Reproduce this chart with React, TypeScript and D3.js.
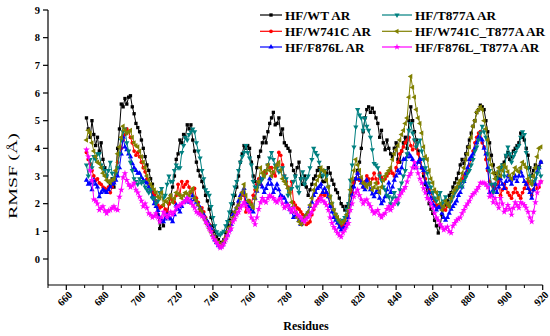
import React from "react";
import * as d3 from "d3";

const firstResidue = 671;
const xTickValues = [660, 680, 700, 720, 740, 760, 780, 800, 820, 840, 860, 880, 900, 920];
const xMinorValues = [650, 670, 690, 710, 730, 750, 770, 790, 810, 830, 850, 870, 890, 910];
const yTickValues = [0, 1, 2, 3, 4, 5, 6, 7, 8, 9];

const wt = [
  5.1, 4.7, 4.4, 5.0, 4.5, 4.1, 4.4, 3.9, 4.2, 3.6,
  3.3, 3.0, 2.8, 2.7, 2.9, 2.6, 3.1, 4.0, 4.7, 5.6,
  5.5, 5.8, 5.6, 5.85, 5.9, 5.5, 5.25, 4.9, 4.75, 4.6,
  4.3, 4.0, 3.7, 3.4, 3.2, 2.9, 2.7, 2.3, 2.0, 1.6,
  1.1, 1.4, 1.2, 1.6, 1.5, 2.0, 2.3, 2.6, 3.0, 3.6,
  3.8, 4.3, 4.2, 4.5, 4.4, 4.85, 4.7, 4.85, 4.3, 3.9,
  3.5, 3.2, 3.0, 2.8, 2.6, 2.3, 2.1, 1.8, 1.5, 1.2,
  1.0, 0.8, 0.7, 0.6, 0.5, 0.7, 0.95, 1.2, 1.4, 1.7,
  2.0, 2.3, 2.6, 3.0, 3.5, 3.8, 4.1, 4.0, 4.1, 4.0,
  3.5, 3.0, 2.8, 3.3, 3.7, 3.9, 4.2, 4.4, 4.2, 4.6,
  4.9, 5.1, 5.3, 4.85, 4.9, 5.1, 4.5, 4.7, 4.2, 4.1,
  4.0, 3.9, 3.4, 3.2, 3.0, 3.3, 3.5, 2.9, 2.7, 3.0,
  2.6, 2.3, 2.5, 2.7, 2.9, 3.0, 3.2, 3.3, 3.0, 2.8,
  2.8, 3.1, 3.3, 3.1, 2.85, 2.7, 2.5, 2.4, 2.2, 2.0,
  1.9, 1.77, 1.9, 2.0, 2.3, 2.6, 2.8, 2.9, 3.2, 3.5,
  4.0, 4.6, 5.1, 5.4, 5.5, 5.3, 5.45, 5.3, 5.1, 4.9,
  4.4, 4.65, 4.2, 3.95, 4.3, 4.0, 3.8, 3.7, 4.0, 4.2,
  3.6, 3.5, 3.9, 4.2, 4.4, 4.0, 5.0, 5.5, 5.0, 4.6,
  4.3, 3.9, 3.6, 3.3, 3.0, 2.7, 2.4, 2.0, 1.8, 1.65,
  1.4, 1.2, 0.94, 1.2, 1.6, 1.8, 1.95, 2.1, 2.3, 2.4,
  2.6, 2.75, 2.9, 3.1, 3.4, 3.6, 3.45, 3.8, 4.05, 4.3,
  4.55, 4.8, 5.0, 5.3, 5.4, 5.56, 5.5, 5.4, 5.0, 4.6,
  4.2, 3.75, 3.4, 3.1, 2.95, 2.9, 3.3, 3.4, 3.5, 3.7,
  3.85, 3.6, 3.7, 3.9, 4.0, 4.1, 4.2, 4.55, 4.4, 4.3,
  4.0, 3.75, 3.3, 3.0, 3.2, 3.4, 3.3, 3.35, 3.5,
];

const t877a = [
  3.4, 3.0, 3.6, 3.3, 3.7, 3.6, 3.8, 3.8, 3.4, 3.3,
  3.2, 3.0, 3.2, 3.5, 3.1, 2.9, 3.1, 3.3, 3.8, 4.3,
  4.6, 4.7, 4.2, 3.9, 3.5, 3.2, 2.9, 2.8, 2.7, 2.9,
  2.75, 2.8, 2.6, 2.5, 2.4, 2.5, 2.2, 2.2, 2.0, 2.1,
  2.4, 2.55, 2.2, 2.3, 2.7, 3.0, 2.8, 2.8, 3.2, 3.4,
  3.3, 3.3, 3.85, 4.1, 4.4, 4.3, 4.5, 4.6, 4.7, 4.6,
  4.2, 3.9, 3.65, 3.2, 2.9, 2.5, 2.4, 2.3, 1.9, 1.5,
  1.2, 0.98, 0.9, 0.87, 0.95, 1.0, 1.2, 1.35, 1.7, 2.0,
  2.3, 2.6, 2.8, 3.2, 3.5, 3.7, 3.85, 4.1, 3.85, 3.65,
  3.4, 2.8, 2.6, 2.55, 2.7, 2.8, 2.9, 3.0, 3.2, 3.4,
  3.65, 3.85, 3.6, 3.4, 3.3, 3.15, 3.2, 3.3, 3.0, 2.9,
  2.3, 2.5, 2.55, 2.8, 3.0, 2.6, 2.4, 2.9, 3.15, 2.7,
  2.9, 3.0, 3.3, 3.6, 4.0, 3.85, 3.75, 3.5, 3.2, 3.0,
  3.2, 3.0, 2.6, 2.25, 2.0, 1.77, 1.6, 1.4, 1.35, 1.3,
  1.4, 1.5, 1.8, 2.0, 2.85, 3.4, 4.05, 4.77, 5.4, 5.2,
  5.1, 4.65, 5.1, 4.8, 4.65, 4.4, 3.95, 3.45, 3.4, 3.3,
  3.0, 2.85, 2.6, 2.5, 2.3, 2.25, 2.0, 2.2, 2.4, 2.2,
  2.0, 2.5, 2.75, 3.0, 3.2, 3.8, 4.65, 4.9, 4.55, 4.3,
  4.05, 4.2, 4.3, 3.9, 3.6, 3.3, 3.1, 2.75, 2.6, 2.4,
  2.2, 2.1, 2.3, 2.4, 2.0, 2.1, 2.25, 2.0, 1.9, 2.1,
  2.25, 2.4, 2.5, 2.6, 2.75, 2.6, 2.8, 2.95, 3.1, 3.2,
  3.4, 3.6, 3.9, 4.05, 4.3, 4.55, 4.8, 4.6, 4.4, 3.8,
  3.2, 2.7, 2.4, 2.7, 2.9, 3.15, 3.3, 3.4, 3.0, 3.75,
  4.05, 3.8, 3.5, 3.7, 3.85, 4.0, 4.1, 4.4, 4.6, 4.5,
  3.85, 3.3, 3.0, 2.7, 2.8, 2.9, 3.1, 3.3, 3.0,
];

const w741c = [
  3.85, 3.6, 3.45, 3.2, 3.0, 2.85, 2.9, 2.75, 2.7, 2.6,
  2.55, 2.5, 2.6, 2.4, 2.6, 2.8, 3.1, 3.5, 3.8, 4.0,
  4.3, 4.5, 4.7, 4.6, 4.4, 4.2, 3.9, 3.75, 3.85, 3.7,
  3.5, 3.3, 3.15, 2.9, 2.7, 2.5, 2.4, 2.3, 2.1, 1.95,
  1.85, 1.9, 1.95, 1.8, 1.7, 2.0, 2.2, 2.1, 2.05, 2.3,
  2.7, 2.3, 2.8, 2.6, 2.7, 2.8, 2.6, 2.4, 2.5, 2.55,
  2.2, 2.05, 1.7, 1.85, 1.7, 1.5, 1.35, 1.25, 1.05, 0.87,
  0.7, 0.6, 0.55, 0.5, 0.55, 0.6, 0.8, 0.98, 1.1, 1.25,
  1.6, 1.7, 1.85, 2.0, 2.2, 2.4, 2.3, 1.7, 1.9, 2.1,
  2.0, 2.3, 2.5, 2.7, 2.9, 2.7, 2.9, 3.15, 3.1, 3.4,
  3.3, 3.3, 3.1, 3.0, 3.4, 3.85, 3.75, 3.4, 3.0, 2.8,
  2.6, 2.4, 2.8, 2.05, 1.95, 1.85, 1.8, 1.7, 1.6, 1.5,
  1.25, 1.3, 1.35, 1.6, 1.8, 1.95, 2.1, 2.2, 2.3, 2.4,
  2.3, 2.4, 2.25, 2.0, 1.9, 1.77, 1.6, 1.4, 1.25, 1.16,
  1.2, 1.3, 1.5, 1.7, 2.0, 2.4, 2.75, 2.9, 3.1, 2.85,
  2.9, 2.6, 2.8, 3.0, 2.9, 2.75, 2.9, 3.1, 2.9, 2.75,
  3.1, 2.95, 2.85, 2.9, 3.0, 3.1, 3.2, 3.1, 3.0, 3.3,
  3.5, 3.8, 3.9, 4.05, 4.2, 4.3, 4.4, 4.1, 3.95, 4.3,
  4.0, 3.8, 3.5, 3.3, 3.1, 2.9, 2.6, 2.5, 2.4, 2.2,
  2.1, 1.95, 1.9, 1.95, 2.0, 1.8, 1.77, 1.9, 2.0, 2.1,
  2.25, 2.4, 2.5, 2.6, 2.75, 2.9, 3.0, 3.1, 3.2, 3.4,
  3.6, 3.9, 4.2, 4.4, 4.55, 4.6, 4.2, 4.05, 3.6, 3.2,
  2.8, 2.7, 2.6, 2.55, 2.7, 2.8, 2.3, 2.5, 2.7, 2.55,
  2.4, 2.3, 2.2, 2.4, 2.55, 2.4, 2.3, 2.2, 2.4, 2.55,
  2.7, 2.8, 2.5, 2.3, 2.5, 2.7, 2.55, 2.6, 2.8,
];

const f876l = [
  2.85, 2.7, 2.75, 2.5, 2.85, 2.7, 2.6, 2.25, 2.4, 2.5,
  2.45, 2.4, 2.5, 2.6, 2.7, 2.75, 2.85, 3.0, 3.3, 3.8,
  4.4, 4.05, 3.95, 3.8, 3.7, 3.45, 3.3, 3.2, 3.1, 3.1,
  2.95, 2.85, 2.8, 2.75, 2.6, 2.5, 2.25, 2.0, 1.9, 1.75,
  1.5, 1.4, 1.35, 1.45, 1.6, 1.5, 1.45, 1.35, 1.6, 1.95,
  1.8, 1.7, 1.9, 2.05, 2.1, 2.2, 2.05, 2.1, 2.3, 2.15,
  2.05, 1.95, 1.85, 1.7, 1.6, 1.45, 1.35, 1.2, 1.1, 0.87,
  0.7, 0.6, 0.5, 0.43, 0.5, 0.6, 0.75, 0.87, 1.05, 1.25,
  1.6, 1.7, 1.85, 2.1, 2.3, 2.4, 2.55, 2.05, 1.95, 1.85,
  1.75, 1.7, 2.2, 2.45, 2.7, 2.9, 2.6, 2.4, 2.55, 2.7,
  2.9, 2.7, 2.4, 2.55, 2.7, 2.5, 2.3, 2.25, 2.2, 2.05,
  1.95, 1.8, 1.7, 1.5, 1.55, 1.6, 1.4, 1.25, 1.4, 1.5,
  1.6, 1.7, 1.9, 2.05, 2.3, 2.4, 2.55, 2.6, 2.7, 2.4,
  2.55, 2.4, 2.25, 1.9, 1.7, 1.5, 1.4, 1.3, 1.15, 1.05,
  1.1, 1.16, 1.3, 1.5, 2.0, 2.3, 2.6, 2.9, 3.1, 2.9,
  2.75, 2.6, 2.5, 2.85, 2.7, 2.5, 2.35, 2.25, 2.4, 2.5,
  2.2, 2.0, 2.1, 2.25, 2.5, 2.75, 2.4, 2.6, 2.85, 3.0,
  3.2, 3.1, 3.3, 3.6, 3.6, 3.7, 3.8, 3.7, 3.6, 3.4,
  3.3, 3.5, 3.6, 3.3, 3.2, 2.75, 2.6, 2.4, 2.2, 2.0,
  1.9, 1.77, 1.85, 1.9, 1.65, 1.5, 1.4, 1.5, 1.65, 1.8,
  1.9, 2.0, 2.1, 2.3, 2.4, 2.6, 2.8, 3.1, 3.3, 3.6,
  3.7, 3.8, 4.0, 4.2, 4.4, 4.35, 4.3, 4.0, 3.8, 3.3,
  2.4, 2.3, 2.5, 2.7, 2.4, 2.6, 2.9, 2.7, 2.55, 2.8,
  3.0, 2.85, 2.7, 2.9, 3.0, 2.8, 3.0, 3.15, 3.0, 2.8,
  2.7, 2.55, 2.4, 2.2, 2.5, 2.7, 3.15, 3.3, 3.5,
];

const w741cT877a = [
  4.3, 4.65, 4.55, 4.2, 3.9, 3.7, 3.5, 3.45, 3.3, 3.1,
  3.0, 2.85, 2.8, 2.75, 2.85, 2.9, 3.2, 3.8, 4.05, 4.4,
  4.8, 4.65, 4.55, 4.6, 4.65, 4.4, 4.2, 4.1, 4.05, 3.9,
  3.7, 3.5, 3.3, 3.0, 2.85, 2.7, 2.6, 2.5, 2.4, 2.25,
  2.2, 2.4, 1.95, 2.1, 2.05, 2.2, 2.3, 2.05, 2.2, 2.4,
  2.35, 2.3, 2.2, 2.3, 2.4, 2.35, 2.3, 2.45, 2.55, 2.2,
  2.1, 1.95, 1.8, 1.7, 1.5, 1.4, 1.25, 1.1, 0.98, 0.85,
  0.76, 0.65, 0.6, 0.55, 0.5, 0.65, 0.76, 0.98, 1.15, 1.35,
  1.5, 1.7, 1.85, 1.95, 2.2, 2.4, 2.7, 2.3, 2.1, 2.05,
  1.95, 1.85, 2.2, 2.5, 2.8, 3.3, 3.1, 3.0, 3.2, 3.4,
  3.2, 3.0, 3.15, 3.3, 3.4, 3.5, 3.2, 2.9, 2.8, 2.7,
  2.55, 2.4, 2.05, 1.9, 1.7, 1.5, 1.35, 1.25, 1.3, 1.5,
  1.6, 1.7, 1.95, 2.2, 2.5, 2.7, 2.85, 3.0, 3.3, 3.2,
  3.15, 2.85, 2.6, 2.25, 2.0, 1.77, 1.6, 1.5, 1.4, 1.3,
  1.35, 1.4, 1.6, 1.77, 2.5, 2.9, 3.2, 3.6, 3.4, 3.2,
  2.95, 2.75, 2.7, 2.6, 2.7, 2.75, 2.5, 2.6, 2.75, 2.55,
  2.4, 2.6, 2.85, 3.0, 3.1, 3.2, 3.3, 3.6, 3.8, 3.95,
  4.1, 4.3, 4.5, 4.65, 4.9, 5.1, 5.85, 6.6, 6.2, 5.85,
  5.4, 5.1, 4.9, 4.55, 4.05, 3.7, 3.6, 3.2, 2.9, 2.75,
  2.5, 2.4, 2.2, 2.0, 1.77, 1.9, 2.1, 2.0, 1.9, 2.2,
  2.4, 2.5, 2.6, 2.75, 2.85, 3.1, 3.3, 3.6, 3.8, 4.05,
  4.4, 4.8, 5.0, 5.3, 5.4, 5.5, 5.4, 5.0, 4.7, 4.3,
  3.6, 3.4, 3.1, 2.9, 3.1, 3.3, 3.0, 3.2, 3.4, 3.3,
  3.15, 3.0, 2.9, 3.1, 3.3, 3.2, 3.15, 3.3, 3.5, 3.4,
  3.3, 2.9, 2.8, 2.7, 3.0, 3.3, 3.7, 4.0, 4.05,
];

const f876lT877a = [
  3.95, 3.7, 3.2, 2.85, 2.15, 2.1, 2.0, 1.77, 1.85, 1.9,
  1.75, 1.65, 1.75, 1.77, 1.85, 1.9, 1.8, 1.77, 2.25, 2.5,
  2.95, 3.1, 2.85, 2.7, 2.6, 2.65, 2.75, 2.5, 2.4, 2.25,
  2.1, 1.9, 2.0, 1.85, 1.65, 1.6, 1.5, 1.55, 1.65, 1.5,
  1.35, 1.5, 1.7, 1.6, 1.5, 1.6, 1.7, 1.6, 1.7, 1.85,
  1.9, 1.95, 2.0, 2.05, 2.1, 2.2, 2.1, 2.05, 1.95, 1.85,
  1.7, 1.65, 1.6, 1.55, 1.5, 1.35, 1.25, 1.1, 0.98, 0.8,
  0.7, 0.6, 0.5, 0.4, 0.45, 0.55, 0.7, 0.85, 1.0, 1.1,
  1.35, 1.45, 1.6, 1.7, 1.85, 1.95, 2.05, 1.95, 1.8, 1.7,
  1.5, 1.4, 1.25, 1.5, 1.8, 2.05, 2.2, 2.1, 2.05, 2.2,
  2.3, 2.25, 2.2, 2.1, 2.05, 2.15, 2.2, 2.0, 1.85, 1.9,
  1.95, 1.8, 1.7, 1.85, 1.7, 1.6, 1.55, 1.5, 1.4, 1.35,
  1.45, 1.5, 1.6, 1.7, 1.85, 1.95, 2.05, 2.1, 2.2, 2.1,
  2.05, 1.95, 1.77, 1.5, 1.3, 1.15, 1.05, 0.94, 0.85, 0.8,
  0.95, 1.05, 1.2, 1.3, 1.77, 2.0, 2.25, 2.4, 2.5, 2.3,
  2.15, 2.0, 2.1, 2.15, 2.0, 1.9, 1.75, 1.65, 1.7, 1.77,
  1.6, 1.5, 1.6, 1.65, 1.8, 1.9, 1.77, 1.9, 2.0, 2.1,
  2.15, 2.3, 2.4, 2.5, 2.6, 2.8, 3.0, 3.1, 3.3, 3.5,
  3.3, 3.1, 2.9, 2.75, 2.55, 2.4, 2.2, 2.15, 2.0, 1.85,
  1.65, 1.5, 1.4, 1.25, 1.16, 1.05, 1.1, 1.16, 1.0, 0.94,
  1.2, 1.3, 1.4, 1.45, 1.5, 1.65, 1.77, 1.9, 2.0, 2.1,
  2.25, 2.35, 2.4, 2.5, 2.6, 2.75, 2.75, 2.75, 2.7, 2.6,
  2.25, 2.3, 2.05, 2.2, 2.0, 1.85, 2.2, 2.0, 1.7, 1.8,
  1.95, 1.8, 1.6, 1.85, 2.05, 1.95, 1.85, 2.05, 2.0, 1.95,
  1.85, 1.7, 1.5, 1.35, 1.7, 2.05, 2.4, 2.7, 2.8,
];

const seriesNames = [
  "HF/WT AR",
  "HF/W741C AR",
  "HF/F876L AR",
  "HF/T877A AR",
  "HF/W741C_T877A AR",
  "HF/F876L_T877A AR",
];
const seriesValues = [wt, w741c, f876l, t877a, w741cT877a, f876lT877a];
const seriesColors = ["#000000", "#ff0000", "#0000ff", "#008080", "#808000", "#ff00ff"];
const seriesSymbols = [
  d3.symbolSquare,
  d3.symbolCircle,
  d3.symbolTriangle,
  d3.symbolTriangle,
  d3.symbolTriangle,
  d3.symbolStar,
];
const seriesSymbolRotate = [0, 0, 0, 180, -90, 0];
const seriesSymbolSize = [11, 11, 12, 12, 12, 14];

const FONT = "Liberation Serif, serif";

export default function App() {
  const x = d3.scaleLinear().domain([650, 920]).range([48, 542.7]);
  const y = d3.scaleLinear().domain([-0.94, 9]).range([285, 10]);
  const line = d3
    .line<number>()
    .x((_, i) => x(firstResidue + i))
    .y((d) => y(d));

  const legendPos = [
    { lx: 260, tx: 285, row: 0 },
    { lx: 260, tx: 285, row: 1 },
    { lx: 260, tx: 285, row: 2 },
    { lx: 382, tx: 415, row: 0 },
    { lx: 382, tx: 415, row: 1 },
    { lx: 382, tx: 415, row: 2 },
  ];
  const legendLen = [22, 22, 22, 30, 30, 30];
  const legendRowY = [15, 31.3, 47];
  const textStyle = { fontFamily: FONT };

  return (
    <svg
      width={550}
      height={336}
      style={{ position: "absolute", left: 0, top: 0, background: "#fff", fontFamily: FONT }}
    >
      <rect x={0} y={0} width={550} height={336} fill="#fff" />
      {seriesValues.map((vals, s) => {
        const sym = d3.symbol().type(seriesSymbols[s]).size(seriesSymbolSize[s])() as string;
        return (
          <g key={s}>
            <path d={line(vals) as string} fill="none" stroke={seriesColors[s]} strokeWidth={1} />
            {vals.map((v, i) => (
              <path
                key={i}
                d={sym}
                fill={seriesColors[s]}
                transform={`translate(${x(firstResidue + i)},${y(v)}) rotate(${seriesSymbolRotate[s]})`}
              />
            ))}
          </g>
        );
      })}

      <line x1={x(650)} x2={x(920)} y1={285} y2={285} stroke="#000" strokeWidth={1.2} />
      <line x1={48} x2={48} y1={y(9)} y2={285} stroke="#000" strokeWidth={1.2} />
      {xTickValues.map((t) => (
        <g key={t}>
          <line x1={x(t)} x2={x(t)} y1={285} y2={290} stroke="#000" strokeWidth={1.2} />
          <text
            transform={`translate(${x(t) + 4},${293}) rotate(-45)`}
            textAnchor="end"
            dy="0.35em"
            fontSize={10.5}
            fontWeight="bold"
            style={textStyle}
          >
            {t}
          </text>
        </g>
      ))}
      {xMinorValues.map((t) => (
        <line key={t} x1={x(t)} x2={x(t)} y1={285} y2={288} stroke="#000" strokeWidth={1} />
      ))}
      {yTickValues.map((t) => (
        <g key={t}>
          <line x1={43} x2={48} y1={y(t)} y2={y(t)} stroke="#000" strokeWidth={1.2} />
          <text
            x={40}
            y={y(t)}
            dy="0.35em"
            textAnchor="end"
            fontSize={10.5}
            fontWeight="bold"
            style={textStyle}
          >
            {t}
          </text>
        </g>
      ))}
      <text x={306} y={330} textAnchor="middle" fontSize={12} fontWeight="bold" style={textStyle}>
        Residues
      </text>
      <text
        transform="translate(17,176) rotate(-90)"
        textAnchor="middle"
        fontSize={13.5}
        textLength={86}
        lengthAdjust="spacingAndGlyphs"
        style={textStyle}
      >
        RMSF (Å)
      </text>

      {seriesNames.map((name, s) => {
        const p = legendPos[s];
        const ly = legendRowY[p.row];
        const sym = d3.symbol().type(seriesSymbols[s]).size(seriesSymbolSize[s])() as string;
        return (
          <g key={name}>
            <line
              x1={p.lx}
              x2={p.lx + legendLen[s]}
              y1={ly}
              y2={ly}
              stroke={seriesColors[s]}
              strokeWidth={1.2}
            />
            <path
              d={sym}
              fill={seriesColors[s]}
              transform={`translate(${p.lx + legendLen[s] / 2},${ly}) rotate(${seriesSymbolRotate[s]})`}
            />
            <text x={p.tx} y={ly} dy="0.36em" fontSize={13.2} fontWeight="bold" style={textStyle}>
              {name}
            </text>
          </g>
        );
      })}
    </svg>
  );
}
